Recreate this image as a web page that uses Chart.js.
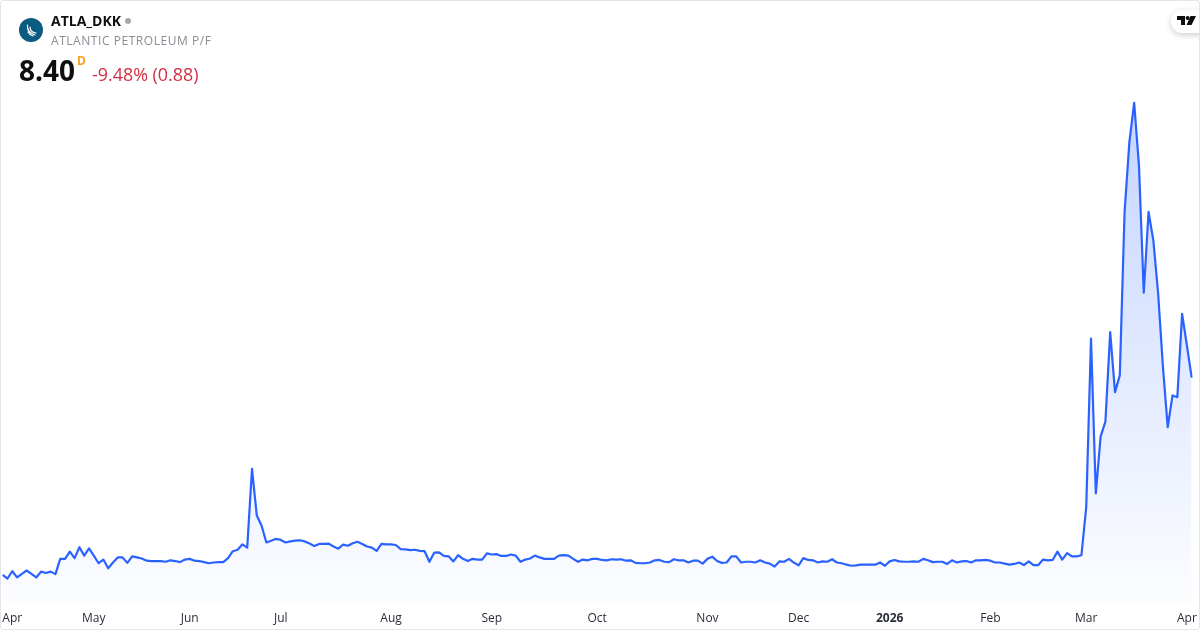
<!DOCTYPE html>
<html>
<head>
<meta charset="utf-8">
<title>ATLA_DKK</title>
<script src="https://cdn.jsdelivr.net/npm/chart.js@4"></script>
<style>
html,body{margin:0;padding:0;background:#fff;overflow:hidden}
#wrap{position:relative;width:1200px;height:630px;overflow:hidden;font-family:"Open Sans","Noto Sans",sans-serif}
#wrap canvas{position:absolute;left:0;top:0}
#frame{position:absolute;left:0;top:0;width:1198px;height:628px;border:1px solid #e3e5ea;border-radius:3px;pointer-events:none}
.t{position:absolute;white-space:nowrap;line-height:1}
#pill{position:absolute;left:1171px;top:10px;width:50px;height:23px;border-radius:12px;background:#fff;box-shadow:0 2px 6px rgba(0,0,0,.2)}
</style>
</head>
<body>
<div id="wrap">
<canvas id="c" width="1200" height="630"></canvas>
<svg style="position:absolute;left:19px;top:18px" width="24" height="24" viewBox="0 0 24 24">
<circle cx="12" cy="12" r="12" fill="#0b5a80"/>
<path d="M8.5 7 C8 11 10 15 16 17 M11 9 C11 12 13 14.5 17 15 M9 14 C10 16 12 17.5 14 18" stroke="#fff" stroke-width="1.2" fill="none" stroke-linecap="round"/>
</svg>
<div class="t" style="left:51px;top:14px;font-size:14px;font-weight:700;color:#0f0f0f">ATLA_DKK</div>
<div style="position:absolute;left:125px;top:18px;width:6px;height:6px;border-radius:50%;background:#a5a8b0"></div>
<div class="t" style="left:51px;top:35px;font-size:12px;letter-spacing:.55px;color:#8a8d96">ATLANTIC PETROLEUM P/F</div>
<div class="t" style="left:19px;top:56px;font-size:28px;font-weight:700;color:#0f0f0f">8.40</div>
<div class="t" style="left:77px;top:55px;font-size:12px;font-weight:700;color:#f7a21b">D</div>
<div class="t" style="left:92px;top:66px;font-size:17.9px;color:#d12f42">-9.48% (0.88)</div>
<div id="pill"></div>
<svg style="position:absolute;left:1177px;top:16px" width="19" height="10" viewBox="0 0 19 10">
<path d="M0 0H8V9H4V4H0Z M13.5 0H19L14.5 9H9.5Z" fill="#0f0f0f"/><circle cx="10.6" cy="2" r="2" fill="#0f0f0f"/>
</svg>
<div id="frame"></div>
</div>
<script>
const prices = [
2.98,2.88,3.08,2.91,3.01,3.10,3.01,2.91,3.07,3.03,3.07,3.00,3.42,3.42,3.62,3.44,3.74,3.51,3.71,3.51,
3.30,3.40,3.16,3.32,3.46,3.46,3.31,3.49,3.46,3.43,3.37,3.36,3.36,3.36,3.34,3.38,3.36,3.33,3.40,3.42,
3.37,3.36,
3.33,3.30,3.32,3.33,3.33,3.44,3.63,3.67,3.82,3.73,5.89,4.61,4.33,3.87,3.92,3.97,3.94,3.87,3.90,3.92,
3.93,3.90,3.84,3.77,3.83,3.83,3.84,3.76,3.70,3.81,3.78,3.85,3.89,3.83,3.76,3.73,3.64,3.83,3.82,3.82,
3.80,
3.69,3.68,3.66,3.67,3.64,3.63,3.34,3.59,3.60,3.50,3.49,3.35,3.52,3.42,3.36,3.42,3.40,3.40,3.57,3.54,
3.55,3.50,3.50,3.54,3.51,3.34,3.40,3.43,3.51,3.46,3.42,3.42,3.42,3.51,3.52,3.51,3.42,3.34,3.40,3.38,
3.42,3.42,3.39,3.38,3.41,3.40,3.41,3.37,3.38,3.31,3.30,3.30,3.32,
3.38,3.39,3.34,3.33,3.41,3.38,3.38,3.32,3.37,3.37,3.29,3.42,3.48,3.36,3.31,3.32,3.49,3.49,3.32,3.34,
3.34,3.32,3.38,3.32,3.29,3.21,3.35,3.34,3.42,3.32,3.24,3.44,3.39,3.38,3.32,3.35,3.34,3.41,3.32,3.30,
3.26,3.23,3.24,3.26,3.26,3.26,3.26,3.32,3.23,3.35,3.39,3.35,
3.34,3.34,3.35,3.34,3.42,3.38,3.33,3.34,3.34,3.28,3.38,3.32,3.35,3.36,3.32,3.38,3.38,3.39,3.37,3.32,
3.32,3.29,3.26,3.28,3.32,3.25,3.35,3.25,3.25,3.40,3.38,3.39,3.62,3.40,3.58,3.49,3.49,3.52,
4.84,9.47,5.22,6.78,7.19,9.65,8.00,8.46,12.95,14.87,15.95,14.23,10.73,12.95,12.17,10.71,8.69,7.04,7.91,7.86,
10.15,9.28,8.40
];
const tickLabels = ["Apr","May","Jun","Jul","Aug","Sep","Oct","Nov","Dec","2026","Feb","Mar","Apr"];
const tickIndexes = [2,19,39,58,81,102,124,147,166,185,206,226,247];
const categories = prices.map((_, i) => i);

new Chart(document.getElementById('c'), {
  type: 'line',
  data: {
    labels: categories,
    datasets: [{
      data: prices,
      borderColor: '#2962FF',
      borderWidth: 2.2,
      pointRadius: 0,
      tension: 0,
      borderJoinStyle: 'round',
      fill: 'start',
      backgroundColor(ctx) {
        const a = ctx.chart.chartArea;
        if (!a) return 'rgba(41,98,255,0.1)';
        const g = ctx.chart.ctx.createLinearGradient(0, 102, 0, a.bottom);
        g.addColorStop(0, 'rgba(41,98,255,0.27)');
        g.addColorStop(1, 'rgba(41,98,255,0.01)');
        return g;
      }
    }]
  },
  options: {
    responsive: false,
    animation: false,
    layout: { autoPadding: false, padding: { left: 2.7, right: 8.3, top: 90, bottom: 0 } },
    plugins: { legend: { display: false }, tooltip: { enabled: false } },
    scales: {
      y: { display: false, min: 2.18, max: 16.30 },
      x: {
        offset: false,
        border: { display: false },
        grid: { display: false, drawTicks: true, tickLength: 7 },
        afterFit(s) { s.height = 26; },
        ticks: {
          autoSkip: false,
          maxRotation: 0,
          minRotation: 0,
          padding: 0,
          color: '#2a2e39',
          font(ctx) {
            const k = tickIndexes.indexOf(ctx.index);
            return { family: '"Open Sans","Noto Sans",sans-serif', size: 12, weight: tickLabels[k] === '2026' ? 'bold' : 'normal' };
          },
          callback(v, i) {
            const k = tickIndexes.indexOf(i);
            return k >= 0 ? tickLabels[k] : '';
          }
        }
      }
    }
  }
});
</script>
</body>
</html>
